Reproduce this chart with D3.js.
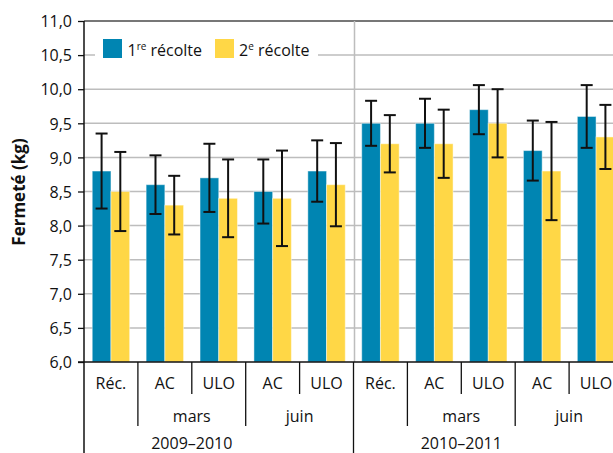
<!DOCTYPE html>
<html><head><meta charset="utf-8">
<script src="https://cdn.jsdelivr.net/npm/d3@7"></script>
<style>
html,body{margin:0;padding:0;background:#fff;}
svg{display:block;font-family:"Open Sans",sans-serif;}
</style></head>
<body>
<script>
const categories = ["Réc.","AC","ULO","AC","ULO","Réc.","AC","ULO","AC","ULO"];
const subgroups = [{label:"mars", from:1, to:2},{label:"juin", from:3, to:4},{label:"mars", from:6, to:7},{label:"juin", from:8, to:9}];
const years = [{label:"2009–2010", from:0, to:4},{label:"2010–2011", from:5, to:9}];
const seriesNames = ["1re récolte","2e récolte"];
const recolte1 = [8.8,8.6,8.7,8.5,8.8,9.5,9.5,9.7,9.1,9.6];
const recolte2 = [8.5,8.3,8.4,8.4,8.6,9.2,9.2,9.5,8.8,9.3];
const err1 = [0.55,0.43,0.50,0.47,0.45,0.33,0.36,0.36,0.44,0.46];
const err2 = [0.58,0.43,0.57,0.70,0.61,0.42,0.50,0.50,0.72,0.47];
const yTicks = [6,6.5,7,7.5,8,8.5,9,9.5,10,10.5,11];

const W=613,H=453;
const colors=["#0085B2","#FFD746"];
const svg=d3.select("body").append("svg").attr("width",W).attr("height",H);

const x=d3.scaleBand().domain(d3.range(categories.length)).range([84,623]).paddingInner(0).paddingOuter(0);
const xs=d3.scaleBand().domain([0,1]).range([0,x.bandwidth()]).paddingInner(0).paddingOuter(0.44);
const y=d3.scaleLinear().domain([6,11]).range([362,21]);

// gridlines
svg.append("g").selectAll("line").data(yTicks.filter(t=>t>6&&t<11)).join("line")
  .attr("x1",84).attr("x2",W).attr("y1",d=>y(d)).attr("y2",d=>y(d))
  .attr("stroke","#bdbdbd").attr("stroke-width",1.5);
// top border
svg.append("line").attr("x1",84).attr("x2",W).attr("y1",y(11)).attr("y2",y(11)).attr("stroke","#4a4a4a").attr("stroke-width",1.5);
// year separator in plot
svg.append("line").attr("x1",x(5)+1).attr("x2",x(5)+1).attr("y1",y(11)).attr("y2",y(6)).attr("stroke","#bdbdbd").attr("stroke-width",1.5);

// bars
const data=categories.map((c,i)=>({i,v:[recolte1[i],recolte2[i]],e:[err1[i],err2[i]]}));
const g=svg.append("g");
data.forEach(d=>{
  [0,1].forEach(s=>{
    const bx=x(d.i)+xs(s);
    g.append("rect").attr("x",bx).attr("width",xs.bandwidth()).attr("y",y(d.v[s])).attr("height",y(6)-y(d.v[s]))
     .attr("fill",colors[s]).attr("stroke","rgba(255,255,255,0.45)").attr("stroke-width",1);
  });
});
// error bars
data.forEach(d=>{
  [0,1].forEach(s=>{
    const cx=x(d.i)+xs(s)+xs.bandwidth()/2;
    const hi=y(d.v[s]+d.e[s]), lo=y(d.v[s]-d.e[s]);
    g.append("line").attr("x1",cx).attr("x2",cx).attr("y1",hi).attr("y2",lo).attr("stroke","#111").attr("stroke-width",2);
    [hi,lo].forEach(yy=>g.append("line").attr("x1",cx-6).attr("x2",cx+6).attr("y1",yy).attr("y2",yy).attr("stroke","#111").attr("stroke-width",2));
  });
});

// y axis
const fmt=d=>d3.format(".1f")(d).replace(".",",");
const yAxis=d3.axisLeft(y).tickValues(yTicks).tickFormat(fmt).tickSize(6).tickPadding(6);
const ya=svg.append("g").attr("transform","translate(84,0)").call(yAxis);
ya.select(".domain").remove();
ya.selectAll(".tick line").attr("stroke","#111").attr("stroke-width",1.3);
ya.selectAll(".tick text").attr("font-size",16).attr("font-family","Open Sans").attr("fill","#111").attr("dy","0.36em");
svg.append("line").attr("x1",84).attr("x2",84).attr("y1",y(11)).attr("y2",H).attr("stroke","#111").attr("stroke-width",1.5);

// x axis line
svg.append("line").attr("x1",78).attr("x2",W).attr("y1",y(6)).attr("y2",y(6)).attr("stroke","#111").attr("stroke-width",1.5);

// dividers
const ends={1:426,3:426,6:426,8:426,2:394,4:394,7:394,9:394,5:H};
Object.keys(ends).forEach(k=>{
  const xx=x(+k);
  svg.append("line").attr("x1",xx).attr("x2",xx).attr("y1",y(6)).attr("y2",ends[k]).attr("stroke","#111").attr("stroke-width",1.3);
});

// category labels
svg.append("g").selectAll("text").data(categories).join("text")
  .attr("x",(d,i)=>x(i)+x.bandwidth()/2).attr("y",389).attr("text-anchor","middle")
  .attr("font-size",16).attr("fill","#111").text(d=>d);
svg.append("g").selectAll("text").data(subgroups).join("text")
  .attr("x",d=>(x(d.from)+x(d.to)+x.bandwidth())/2).attr("y",422).attr("text-anchor","middle")
  .attr("font-size",16).attr("fill","#111").text(d=>d.label);
svg.append("g").selectAll("text").data(years).join("text")
  .attr("x",d=>x(d.from+2)).attr("y",449).attr("text-anchor","middle")
  .attr("font-size",16).attr("fill","#111").text(d=>d.label);

// y title
svg.append("text").attr("transform","translate(25,192) rotate(-90)").attr("text-anchor","middle")
  .attr("font-size",17).attr("font-weight","bold").attr("fill","#111").text("Fermeté (kg)");

// legend
svg.append("rect").attr("x",95).attr("y",32).attr("width",223).attr("height",32).attr("fill","#fff");
const leg=[{x:103,tx:127.5,main:"1",sup:"re",rest:" récolte"},{x:215,tx:239,main:"2",sup:"e",rest:" récolte"}];
leg.forEach((l,i)=>{
  svg.append("rect").attr("x",l.x).attr("y",39).attr("width",19).attr("height",19).attr("fill",colors[i]);
  const t=svg.append("text").attr("x",l.tx).attr("y",56).attr("font-size",16).attr("fill","#111");
  t.append("tspan").text(l.main);
  t.append("tspan").attr("font-size",10).attr("dy",-6).text(l.sup);
  t.append("tspan").attr("dy",6).attr("font-size",16).text(l.rest);
});
</script>
</body></html>
